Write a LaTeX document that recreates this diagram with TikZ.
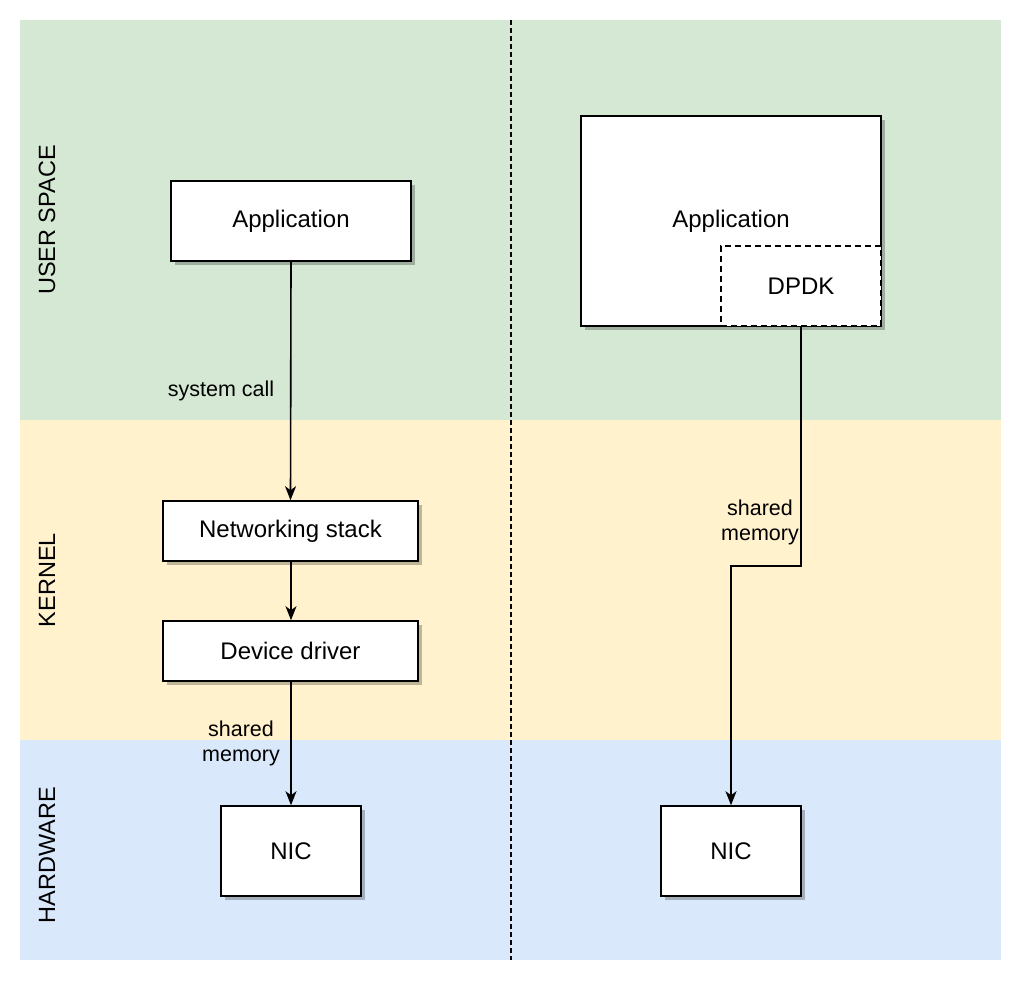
\documentclass[tikz,border=0pt]{standalone}
\usepackage{fontspec}
\setmainfont{Liberation Sans}
\usetikzlibrary{arrows.meta,shadows}
\definecolor{ugreen}{HTML}{D5E8D4}
\definecolor{kyellow}{HTML}{FFF2CC}
\definecolor{hblue}{HTML}{DAE8FC}
\begin{document}
\begin{tikzpicture}[x=1pt,y=-1pt,
  box/.style={draw=black, fill=white, line width=1.6pt, inner sep=0pt,
    font=\fontsize{24}{28}\selectfont,
    general shadow={fill=black, opacity=0.25, shadow xshift=4pt, shadow yshift=-4pt}},
  dashbox/.style={draw=black, fill=white, line width=1.6pt, inner sep=0pt,
    dash pattern=on 6pt off 4pt, font=\fontsize{24}{28}\selectfont},
  arr/.style={draw=black, line width=1.6pt, -{Stealth[length=14pt,width=11pt,inset=4pt]}},
  lbl/.style={font=\fontsize{21.5}{25}\selectfont, align=center, inner sep=0pt},
  band/.style={font=\fontsize{23.5}{27}\selectfont, rotate=90, inner sep=0pt}]
\useasboundingbox (0,0) rectangle (1024,984);
\fill[white] (0,0) rectangle (1024,984);
\fill[ugreen] (20,20) rectangle (1001,420);
\fill[kyellow] (20,420) rectangle (1001,740);
\fill[hblue] (20,740) rectangle (1001,960);
\coordinate (dtop) at (511,20);
\coordinate (dbot) at (511,960);
\draw[line width=1.2pt, dash pattern=on 5pt off 3pt] (dtop) -- (dbot);
\node[band] (us) at (47,220) {USER SPACE};
\node[band] (kn) at (47,580) {KERNEL};
\node[band] (hw) at (47,855) {HARDWARE};
% left column
\node[box, minimum width=240pt, minimum height=80pt] (appL) at (291,221) {Application};
\node[box, minimum width=255pt, minimum height=60pt] (net) at (290.5,531) {Networking stack};
\node[box, minimum width=255pt, minimum height=60pt] (drv) at (290.5,651) {Device driver};
\node[box, minimum width=140pt, minimum height=90pt] (nicL) at (291,851) {NIC};
% right column
\node[box, minimum width=300pt, minimum height=210pt] (appR) at (731,221) {Application};
\node[dashbox, minimum width=160pt, minimum height=80pt] (dpdk) at (801,286) {DPDK};
\node[box, minimum width=140pt, minimum height=90pt] (nicR) at (731,851) {NIC};
% connectors
\draw[arr] (appL.south) -- (net.north);
\draw[arr] (net.south -| appL.south) -- (drv.north -| appL.south);
\draw[arr] (drv.south -| appL.south) -- (nicL.north);
\coordinate (bend) at (731,566);
\draw[arr] (dpdk.south) |- (bend) -- (nicR.north);
% labels
\node[lbl] (l1) at (221,391) {system call};
\node[lbl] (l2) at (241,743) {shared\\memory};
\node[lbl] (l3) at (760,522) {shared\\memory};
\end{tikzpicture}
\end{document}
